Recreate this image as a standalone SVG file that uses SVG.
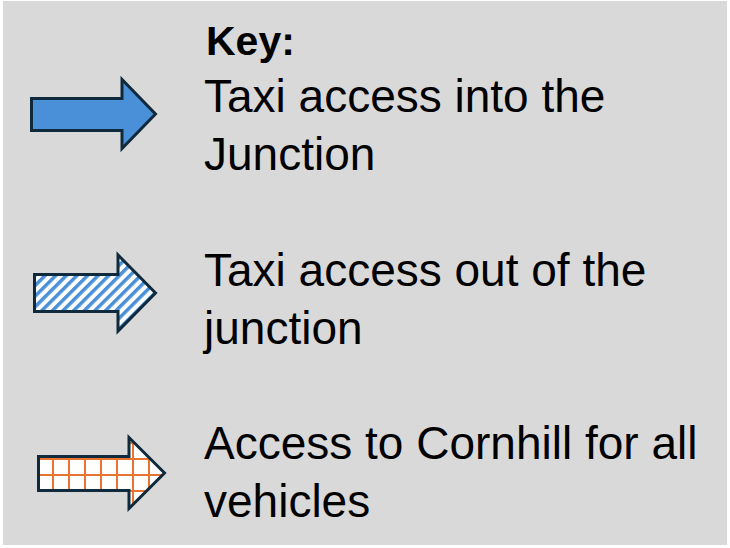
<svg xmlns="http://www.w3.org/2000/svg" width="730" height="548" viewBox="0 0 730 548">
  <style>
    .txt { font-family: "Liberation Sans", Arial, sans-serif; font-size: 46px; fill: #000; }
    .bold { font-weight: bold; font-size: 41px; }
    .arrow { stroke: #0f2a3c; stroke-width: 3; stroke-linejoin: miter; }
  </style>
  <defs>
    <pattern id="stripes" patternUnits="userSpaceOnUse" width="7.5" height="7.5" patternTransform="rotate(45)">
      <rect width="7.5" height="7.5" fill="#ffffff"/>
      <rect width="3.5" height="7.5" fill="#4a90d9"/>
    </pattern>
    <pattern id="grid" patternUnits="userSpaceOnUse" x="-3" y="3" width="16" height="16">
      <rect width="16" height="16" fill="#ffffff"/>
      <path d="M0,8 H16 M8,0 V16" stroke="#e8742f" stroke-width="2" fill="none"/>
    </pattern>
  </defs>
  <rect x="0" y="0" width="730" height="548" fill="#ffffff"/>
  <rect id="panel" x="3" y="1" width="724" height="544" fill="#d9d9d9"/>

  <g id="title">
    <text class="txt bold" x="206" y="55">Key:</text>
  </g>

  <g id="key-taxi-in">
    <path class="arrow" d="M31.5,98.5 H122 V79.5 L155.5,114 L122,148.5 V130.5 H31.5 Z" fill="#4a90d9"/>
    <text class="txt" x="204" y="112">Taxi access into the</text>
    <text class="txt" x="204" y="170">Junction</text>
  </g>

  <g id="key-taxi-out">
    <path class="arrow" d="M34.5,274.5 H118 V255 L155.5,293 L118,331 V311.5 H34.5 Z" fill="url(#stripes)"/>
    <text class="txt" x="204" y="286">Taxi access out of the</text>
    <text class="txt" x="204" y="344">junction</text>
  </g>

  <g id="key-all-vehicles">
    <path class="arrow" d="M38.5,456.5 H129 V437.5 L164.5,473 L129,508.5 V490.5 H38.5 Z" fill="url(#grid)"/>
    <text class="txt" x="204" y="459">Access to Cornhill for all</text>
    <text class="txt" x="204" y="517">vehicles</text>
  </g>

  <g id="connectors"/>
</svg>
